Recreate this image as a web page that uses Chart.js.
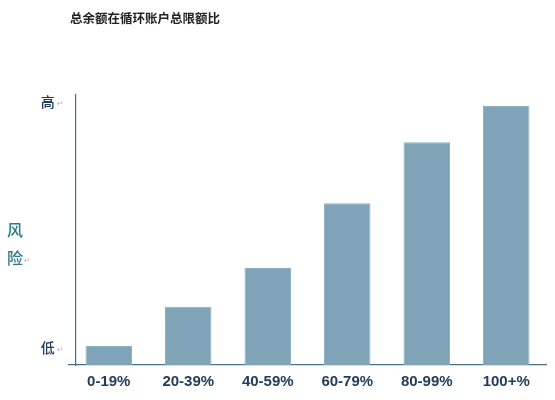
<!DOCTYPE html>
<html>
<head>
<meta charset="utf-8">
<script src="https://cdn.jsdelivr.net/npm/chart.js@4/dist/chart.umd.min.js"></script>
<style>
  html, body { margin: 0; padding: 0; background: #fff; }
  #wrap { width: 555px; height: 400px; position: relative; }
</style>
</head>
<body>
<div id="wrap"><canvas id="c"></canvas></div>
<script>
const title = '总余额在循环账户总限额比';
const categories = ['0-19%', '20-39%', '40-59%', '60-79%', '80-99%', '100+%'];
const riskValues = [7, 21.6, 35.9, 59.9, 82.5, 95.9];
const riskTicks = [6.3, 97.4];
const riskTickLabels = ['低', '高'];
const axisTitle = ['风', '险'];

const navy = '#223c5c';
const teal = '#2b7a86';
const barColor = '#7fa3b7';
const axisColor = '#4a7189';

// title, vertical axis title and the little Word paragraph marks
const extras = {
  id: 'extras',
  afterDraw(chart) {
    const ctx = chart.ctx;
    const y = chart.scales.y;
    ctx.save();
    ctx.textBaseline = 'middle';
    ctx.textAlign = 'center';
    ctx.fillStyle = '#222';
    ctx.font = 'bold 12.5px "Noto Sans CJK SC"';
    ctx.fillText(title, 145, 18);

    ctx.fillStyle = teal;
    ctx.font = '500 16px "Noto Sans CJK SC"';
    ctx.fillText(axisTitle[0], 15, 230);
    ctx.fillText(axisTitle[1], 15, 258);

    ctx.fillStyle = '#b5b5b5';
    ctx.font = '8px "DejaVu Sans"';
    ctx.textAlign = 'left';
    ctx.fillText('↵', 24, 261);
    riskTicks.forEach(v => ctx.fillText('↵', 57, y.getPixelForValue(v) + 2));
    ctx.restore();
  }
};

new Chart(document.getElementById('c'), {
  type: 'bar',
  data: {
    labels: categories,
    datasets: [{
      data: riskValues,
      backgroundColor: barColor,
      borderColor: '#8fb0c2',
      borderWidth: 1,
      barPercentage: 0.585,
      categoryPercentage: 1
    }]
  },
  options: {
    responsive: true,
    maintainAspectRatio: false,
    animation: false,
    events: [],
    layout: { padding: { left: 69, right: 9, top: 95, bottom: 0 } },
    plugins: { legend: { display: false }, tooltip: { enabled: false } },
    scales: {
      x: {
        offset: true,
        grid: { display: false, drawTicks: false },
        border: { display: true, color: axisColor, width: 1.2 },
        ticks: {
          color: navy,
          padding: 8,
          font: { family: '"Liberation Sans", Arial', size: 15, weight: 'bold' }
        },
        afterFit(s) { s.height = 35; }
      },
      y: {
        position: { x: -0.415 },
        min: 0,
        max: 100,
        grid: { display: false, drawTicks: false },
        border: { display: true, color: axisColor, width: 1.2 },
        afterBuildTicks(s) { s.ticks = riskTicks.map(v => ({ value: v })); },
        ticks: {
          color: navy,
          font: { family: '"Noto Sans CJK SC"', size: 14, weight: '500' },
          // trailing wide spaces keep the label clear of the axis line
          callback: (v, i) => riskTickLabels[i] + '\u3000\u2002'
        }
      }
    }
  },
  plugins: [extras]
});
</script>
</body>
</html>
